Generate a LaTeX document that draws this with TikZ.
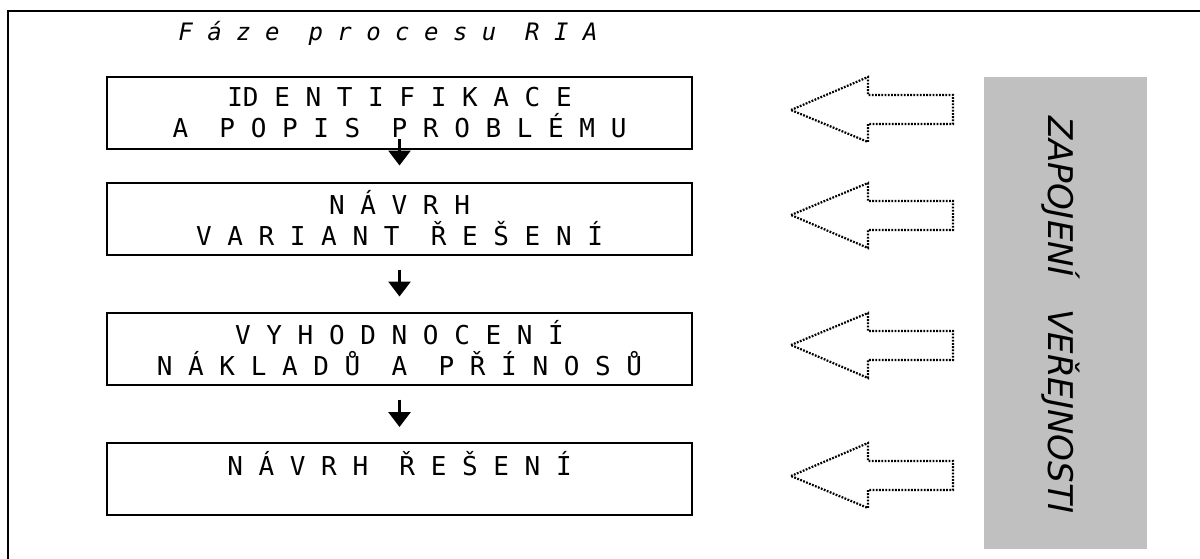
\documentclass[tikz,border=0pt]{standalone}
\usepackage{fontspec}
\usetikzlibrary{arrows.meta,calc}
\newfontfamily\monofont{DejaVu Sans Mono}
\newfontfamily\sansfont{DejaVu Sans}
\definecolor{panelgray}{HTML}{C0C0C0}

\begin{document}
\begin{tikzpicture}[x = .5pt, y = -.5pt,
    phase/.style = {draw, line width = 1pt, minimum width = 292.5pt, minimum height = 36pt,
      align = center, font = \monofont\fontsize{13}{15.5}\selectfont},
    flow/.style = {line width = 1.5pt, -{Triangle[width = 11pt, length = 7.5pt]}},
    inflow/.style = {line width = 1.1pt, dash pattern = on .9pt off .7pt, line join = miter}]
    \useasboundingbox (0,0) rectangle (1200,558);
    \draw [line width = 1pt] (8,580) -- (8,11) -- (1220,11);
    \node (h) at (388, 33) [font = \monofont\itshape\fontsize{12}{14}\selectfont]
      {F á z e~~p r o c e s u~~R I A};
    \node (1) at (399.5, 113) [phase] {ID E N T I F I K A C E\\A~~P O P I S~~P R O B L É M U};
    \node (2) at (399.5, 218.5) [phase] {N Á V R H\\V A R I A N T~~Ř E Š E N Í};
    \node (3) at (399.5, 348.5) [phase] {V Y H O D N O C E N Í\\N Á K L A D Ů~~A~~P Ř Í N O S Ů};
    \node (4) at (399.5, 479) [phase] {N Á V R H~~Ř E Š E N Í\\~};
    \draw [flow] ($(1.south)+(0,-11)$) -- ($(2.north)+(0,-16)$);
    \draw [flow] ($(2.south)+(0,14)$) -- ($(3.north)+(0,-15)$);
    \draw [flow] ($(3.south)+(0,14)$) -- ($(4.north)+(0,-15)$);
    % dotted arrows pointing back at the phases
    \draw [inflow] (791,110) -- (868,77) -- (868,95) -- (953,95) -- (953,124) -- (868,124) -- (868,142) -- cycle;
    \draw [inflow] (791,215) -- (868,183) -- (868,201) -- (953,201) -- (953,230) -- (868,230) -- (868,248) -- cycle;
    \draw [inflow] (791,345) -- (868,313) -- (868,331) -- (953,331) -- (953,360) -- (868,360) -- (868,378) -- cycle;
    \draw [inflow] (791,476) -- (868,443) -- (868,461) -- (953,461) -- (953,490) -- (868,490) -- (868,508) -- cycle;
    \fill [panelgray] (984,77) rectangle (1147,549);
    \node (z) at (1061, 315) [rotate = -90, font = \sansfont\itshape\fontsize{17}{20}\selectfont]
      {ZAPOJENÍ~~~VEŘEJNOSTI};
  \end{tikzpicture}
\end{document}
